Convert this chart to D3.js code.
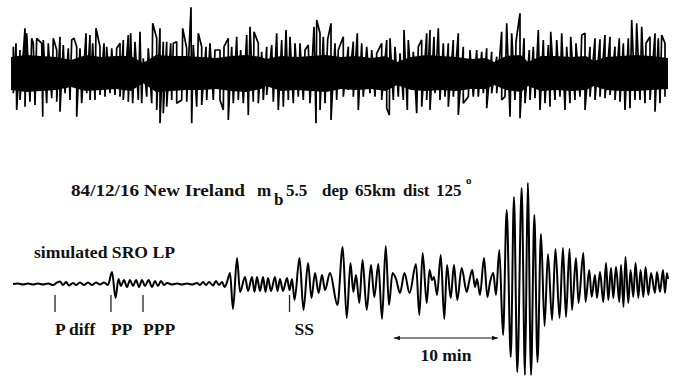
<!DOCTYPE html>
<html>
<head>
<meta charset="utf-8">
<script src="https://cdn.jsdelivr.net/npm/d3@7"></script>
<style>
  body { margin: 0; background: #fff; }
  svg { display: block; }
  text { font-family: "Liberation Serif", serif; font-weight: bold; fill: #111; }
</style>
</head>
<body>
<svg id="chart" width="673" height="376"></svg>
<script>
// top record: spike tips above / below the trace centre (time in min, amplitude in counts)
const topUpT = [0.23,0.5,0.9,1.4,1.57,2.07,2.23,2.57,3.07,3.23,3.73,4.23,4.57,4.9,5.23,5.73,6.07,6.3,6.57,6.9,
  7.5,7.9,8.17,8.5,8.9,9.3,9.57,10.07,10.57,10.9,11.23,11.73,11.97,12.4,12.9,13.23,13.73,14.17,14.57,14.9,
  15.23,15.57,15.97,16.23,16.57,17.17,17.57,18.0,18.23,18.73,19.07,19.5,19.9,20.4,20.9,21.3,21.73,22.07,22.57,22.97,
  23.57,23.9,24.3,24.73,25.07,25.57,26.07,26.57,27.07,27.5,27.9,28.4,28.9,29.4,29.73,30.3,30.57,30.9,31.23,31.67,
  32.0,32.4,32.73,
  33.23,33.73,34.23,34.63,35.07,35.57,36.07,36.57,37.07,37.57,37.9,38.4,38.9,39.3,39.73,40.23,40.73,41.07,41.57,41.9,
  42.3,42.73,43.23,43.73,44.23,44.73,45.23,45.9,46.57,47.07,47.57,48.07,48.57,49.07,49.57,50.07,50.5,50.9,51.3,51.83,
  52.23,52.73,53.23,53.73,53.97,54.57,55.07,55.57,55.97,56.5,57.07,57.4,57.9,58.4,58.9,59.4,59.9,60.4,60.83,61.23,
  61.73,62.07,62.57,63.07,63.5,63.9,64.4,64.73,65.07,65.4];
const topUpA = [27.3,30.7,24,45.7,40.7,35.7,30.7,35.7,30.7,34,30.7,35.7,24,37.3,29,25.7,34,35.7,27.3,25.7,
  40.7,39,30.7,45.7,27.3,30.7,27.3,25.7,25.7,30.7,34,39,40.7,32.3,42.3,15.7,25.7,50.7,35.7,45.7,
  32.3,32.3,30.7,30.7,32.3,45.7,25.7,66.7,29,40.7,27.3,27.3,30.7,24,24,27.3,35.7,27.3,37.3,24,
  39,47.3,42.3,30.7,22.3,27.3,29,40.7,34,44,37.3,30.7,30.7,24,29,47.3,54,40.7,37.3,34.7,
  50.7,30.7,24,
  37.3,27.3,32.3,40.7,30.7,27.3,24,20.7,30.7,34,35.7,27.3,20.7,44,34,22.3,27.3,34,40.7,44,
  37.3,45.7,30.7,30.7,34,40.7,27.3,24,24,22.3,25.7,22.3,17.3,42.3,50.7,40.7,32.3,60.7,35.7,24,
  27.3,44,34,29,42.3,34,40.7,27.3,37.3,30.7,39,40.7,27.3,35.7,34.7,39,37.3,27.3,35.7,30.7,
  35.7,54,50.7,47.3,30.7,37.3,40.7,35.7,39,30.7];
const topDnT = [0.23,0.57,0.9,1.4,1.9,2.4,3.17,3.57,4.07,4.57,4.9,5.4,5.9,6.57,7.07,7.57,7.9,8.4,8.9,9.4,
  9.9,10.4,10.9,11.23,11.73,12.17,12.73,13.07,13.57,14.07,14.57,14.9,15.23,15.57,16.07,16.57,17.07,17.57,18.07,18.57,
  19.07,19.57,20.23,20.9,21.23,21.73,22.23,22.73,23.23,23.73,24.23,24.73,25.23,25.57,26.23,26.73,27.23,27.73,28.23,28.73,
  29.23,29.9,30.5,30.9,31.4,32.0,32.57,
  33.23,33.73,34.23,34.73,35.23,35.9,36.4,37.07,37.57,37.83,38.23,38.73,39.23,39.63,40.07,40.57,41.07,41.57,41.9,42.4,
  42.9,43.4,43.73,44.23,44.73,45.23,45.73,46.23,46.73,47.23,47.57,48.07,48.57,49.07,49.4,49.9,50.4,50.9,51.4,51.9,
  52.4,52.9,53.4,53.9,54.4,54.9,55.4,55.9,56.4,56.9,57.4,57.9,58.4,58.9,59.4,59.9,60.4,60.9,61.4,61.9,
  62.4,62.9,63.4,63.9,64.4,64.9,65.4];
const topDnA = [-19.3,-36,-26,-32.7,-27.7,-31,-42.7,-29.3,-24.3,-27.7,-37.7,-19.3,-26,-42.7,-29.3,-19.3,-26,-26,-21,-22.7,
  -19.3,-21,-22.7,-26,-27.7,-29.3,-26,-29.3,-22.7,-29.3,-36,-49.3,-39.3,-32.7,-26,-29.3,-26,-27.7,-49.3,-32.7,
  -31,-26,-26,-26,-36,-46,-29.3,-26,-29.3,-41,-27.7,-29.3,-26,-21,-27.7,-36,-32.7,-26,-29.3,-22.7,
  -26,-29.3,-49.3,-36,-29.3,-46,-26,
  -22.7,-16,-22.7,-36,-22.7,-19.3,-22.7,-26,-34.3,-41,-26,-22.7,-26,-36,-16,-39.3,-32.7,-26,-36,-19.3,
  -26,-22.7,-32.7,-22.7,-41,-29.3,-22.7,-22.7,-22.7,-19.3,-34.3,-19.3,-19.3,-26,-22.7,-42.7,-26,-44.3,-29.3,-26,
  -24.3,-36,-29.3,-32.7,-26,-22.7,-36,-29.3,-26,-22.7,-36,-22.7,-26,-22.7,-24.3,-21,-26,-27.7,-36,-34.3,
  -26,-26,-29.3,-26,-37.7,-29.3,-22.7];
// dense core of the top record
const coreT  = [0,1.5,3,4.5,6,7.5,9,10.5,12,13.2,14.5,16,17.5,19,20.5,22,23.5,25,25.5,27,28.5,30,31.5,33,34.5,36,37.5,38.6,
  40,41.5,43,44.5,46,47.5,48.3,49.5,51,51.7,53,54.5,56,57.5,58.3,59.5,61,62.5,64,65.7];
const coreHi = [17,19,18,17,14,19,17,18,18,11,19,18,18,17,16,18,19,17,15,18,17,18,19,17,18,16,18,12,
  17,19,18,17,15,16,12,18,19,12,18,18,17,18,13,17,18,19,18,16];
const coreLo = [-16,-18,-17,-16,-13,-17,-16,-15,-17,-9,-18,-17,-16,-16,-15,-17,-18,-15,-12,-17,-16,-17,-18,-15,-16,-15,-17,-11,
  -16,-17,-16,-17,-15,-15,-11,-16,-18,-12,-17,-16,-17,-16,-12,-16,-17,-17,-16,-15];

// simulated SRO LP record: successive extrema (time in min, amplitude in counts)
const lpTime = [0,0.48,0.96,1.44,1.92,2.40,2.88,3.37,3.85,4.23,4.52,4.81,5.10,5.38,5.77,6.06,6.44,6.83,7.21,7.60,7.98,8.37,8.75,9.13,
  9.52,9.86,10.14,10.38,10.67,10.96,11.25,11.54,11.83,12.12,12.40,12.69,13.03,13.37,13.65,13.94,14.23,14.52,14.81,15.29,
  15.77,16.25,16.73,17.21,17.69,17.98,18.27,18.56,18.85,19.23,19.52,19.81,20.10,20.34,20.58,20.87,21.15,21.54,21.83,22.31,
  22.60,22.98,23.22,23.46,23.75,24.04,24.28,24.52,24.81,25.19,25.43,25.67,25.96,26.35,26.59,26.83,27.07,27.55,27.93,28.37,
  28.70,29.04,29.38,29.71,30.00,30.48,31.20,31.70,32.09,32.45,32.72,32.98,33.30,33.61,34.01,34.42,34.74,35.13,35.48,35.84,
  36.15,36.49,36.83,37.21,37.64,38.13,38.75,39.07,39.39,39.78,40.05,40.29,40.48,40.77,41.13,41.47,41.73,42.09,42.40,42.72,
  43.14,43.63,43.85,44.16,44.42,44.62,44.90,45.29,45.61,45.87,46.18,46.44,46.76,47.12,47.47,47.86,48.17,48.49,48.91,49.23,
  49.50,49.81,50.13,50.43,50.77,51.11,51.44,51.83,52.16,52.55,52.88,53.17,53.51,53.75,54.13,54.38,54.84,55.05,55.41,55.64,
  55.96,56.15,56.44,56.76,57.02,57.24,57.50,57.72,57.98,58.30,58.46,58.70,58.89,59.16,59.38,59.64,59.86,60.13,60.34,60.61,
  60.82,61.09,61.35,61.73,61.92,62.21,62.50,62.69,62.88,62.98];
const lpAmp = [0,0.5,-0.5,0.5,-0.5,0.5,-0.5,0.5,-1,1.5,2.5,-1,2,-1.5,1,-1,1.5,-1,1.5,-1,1.5,-0.5,1.5,-1,
  12,-14,5,-2,4,-3,4,-2,4,-3,4,-2,4,-3,3,-2,3,-1,1,-0.5,
  0.5,-0.5,0.5,-0.5,1,-1,2,-1,2,-1.5,3,-1,2,-3,2,11,-25,26,-8,7,
  -7,7,-8,7,-7,7,-8,6,-7,7,-7,5,-7,6,-6,5,-16,26,-26,21,
  -14,11,-9,9,-6,11,-21,37,-34,21,-8,9,-19,24,-26,19,-13,20,-35,38,
  -21,11,5,-9,11,-9,20,-31,31,-19,14,4,7,-11,29,-35,19,-14,19,-16,
  16,-8,2,14,-3,5,-11,26,-13,2,11,-11,34,-51,74,-73,87,-88,96,-91,
  101,-91,69,-78,50,-42,30,-36,35,-34,36,-33,35,-26,26,-19,31,-18,14,-13,
  9,-14,12,-18,21,-16,16,-14,17,-18,19,-23,27,-19,14,-13,21,-14,14,-13,
  17,-11,11,-9,12,-8,14,-9,11,5];

const phaseNames = ["P diff", "PP", "PPP", "SS"];
const phaseTimes = [4.04, 9.42, 12.5, 26.59];
const scaleBar = [36.63, 46.63];   // 10 min

const svg = d3.select("#chart");

const xTop = d3.scaleLinear().domain([0, 65.7]).range([11, 668]);
const yTop = d3.scaleLinear().domain([-100, 100]).range([174, -26]);
const xLp = d3.scaleLinear().domain([0, 63]).range([13, 668.2]);
const yLp = d3.scaleLinear().domain([-100, 100]).range([384, 184]);

// --- top record
const core = d3.area()
  .x(i => xTop(coreT[i]))
  .y0(i => yTop(coreLo[i]))
  .y1(i => yTop(coreHi[i]));
svg.append("path")
  .attr("d", core(d3.range(coreT.length)))
  .attr("fill", "#000");

const spikes = topUpT.map((t, i) => [t, topUpA[i]])
  .concat(topDnT.map((t, i) => [t, topDnA[i]]))
  .sort((a, b) => a[0] - b[0]);
svg.append("path")
  .attr("d", d3.line().x(d => xTop(d[0])).y(d => yTop(d[1]))(spikes))
  .attr("fill", "none")
  .attr("stroke", "#000")
  .attr("stroke-width", 1.7)
  .attr("stroke-linejoin", "bevel");

// --- LP record
const lp = d3.line()
  .x(i => xLp(lpTime[i]))
  .y(i => yLp(lpAmp[i]))
  .curve(d3.curveMonotoneX);
svg.append("path")
  .attr("d", lp(d3.range(lpTime.length)))
  .attr("fill", "none")
  .attr("stroke", "#000")
  .attr("stroke-width", 2)
  .attr("stroke-linejoin", "round");

// phase ticks + names
const labelDx = { "SS": 5 };
phaseNames.forEach((name, i) => {
  const px = xLp(phaseTimes[i]);
  svg.append("line")
    .attr("x1", px).attr("x2", px)
    .attr("y1", yLp(-11)).attr("y2", yLp(-28))
    .attr("stroke", "#222").attr("stroke-width", 1.3);
  svg.append("text")
    .attr("x", px + (labelDx[name] || 0)).attr("y", 335)
    .attr("font-size", 17.5)
    .text(name);
});

// scale bar
const defs = svg.append("defs");
defs.append("marker").attr("id", "arr")
  .attr("viewBox", "0 -4 8 8").attr("refX", 8).attr("refY", 0)
  .attr("markerWidth", 6).attr("markerHeight", 6).attr("orient", "auto-start-reverse")
  .append("path").attr("d", "M0,-3L8,0L0,3").attr("fill", "#111");
svg.append("line")
  .attr("x1", xLp(scaleBar[0])).attr("x2", xLp(scaleBar[1]))
  .attr("y1", yLp(-54)).attr("y2", yLp(-54))
  .attr("stroke", "#111").attr("stroke-width", 1)
  .attr("marker-start", "url(#arr)").attr("marker-end", "url(#arr)");
svg.append("text")
  .attr("x", xLp((scaleBar[0] + scaleBar[1]) / 2)).attr("y", 361)
  .attr("text-anchor", "middle").attr("font-size", 17.5)
  .text("10 min");

// headings
function put(str, x, y, size, len) {
  const t = svg.append("text").attr("x", x).attr("y", y).attr("font-size", size).text(str);
  if (len) t.attr("textLength", len).attr("lengthAdjust", "spacingAndGlyphs");
  return t;
}
put("84/12/16 New Ireland", 71, 196, 17, 174);
put("m", 257, 196, 17);
put("b", 274, 205, 17);
put("5.5", 286, 196, 17);
put("dep", 322, 196, 17);
put("65km", 355, 196, 17);
put("dist", 403, 196, 17);
put("125", 436, 196, 17);
put("o", 466, 184, 11);
put("simulated SRO LP", 34, 258, 17, 141);
</script>
</body>
</html>
